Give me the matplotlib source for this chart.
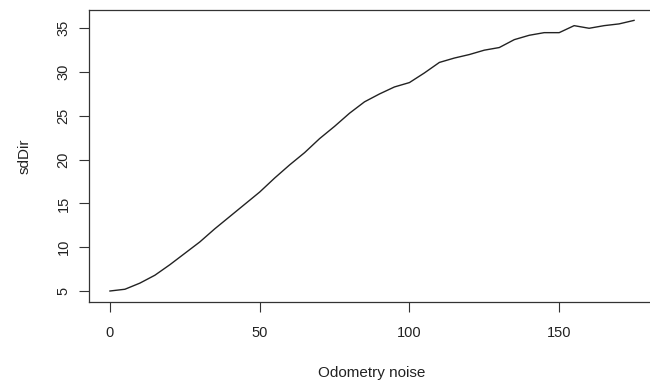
import matplotlib
matplotlib.use("Agg")
import matplotlib.pyplot as plt

noise = [0, 5, 10, 15, 20, 25, 30, 35, 40, 45, 50, 55, 60, 65, 70, 75, 80, 85,
         90, 95, 100, 105, 110, 115, 120, 125, 130, 135, 140, 145, 150, 155,
         160, 165, 170, 175]
sd_dir = [5.0, 5.2, 5.9, 6.8, 8.0, 9.3, 10.6, 12.1, 13.5, 14.9, 16.3, 17.9,
          19.4, 20.8, 22.4, 23.8, 25.3, 26.6, 27.5, 28.3, 28.8, 29.9, 31.1,
          31.6, 32.0, 32.5, 32.8, 33.7, 34.2, 34.5, 34.5, 35.3, 35.0, 35.3,
          35.5, 35.9]
x_ticks = [0, 50, 100, 150]
y_ticks = [5, 10, 15, 20, 25, 30, 35]

plt.rcParams["font.family"] = ["Liberation Sans", "DejaVu Sans"]

fig = plt.figure(figsize=(6.5, 3.85), dpi=100)
# R-style box; the right side runs past the edge of the picture
ax = fig.add_axes([0.1369, 0.2164, 0.8708, 0.7577])
ax.plot(noise, sd_dir, color="#222222", linewidth=1.0)

ax.set_xlim(-7, 182)
ax.set_ylim(3.78, 37.09)
ax.set_xticks(x_ticks)
ax.set_yticks(y_ticks)
ax.set_yticklabels([str(v) for v in y_ticks], rotation=90, va="center")

for s in ax.spines.values():
    s.set_color("#333333")
    s.set_linewidth(0.9)
ax.tick_params(direction="out", length=7.2, width=0.8, colors="#333333",
               labelsize=10.5, labelcolor="#222222")
ax.tick_params(axis="x", pad=10)
ax.tick_params(axis="y", pad=6)

ax.set_xlabel("Odometry noise", fontsize=11, color="#222222", labelpad=19)
ax.set_ylabel("sdDir", fontsize=11, color="#222222", labelpad=18)

fig.savefig("out.png", dpi=100)
